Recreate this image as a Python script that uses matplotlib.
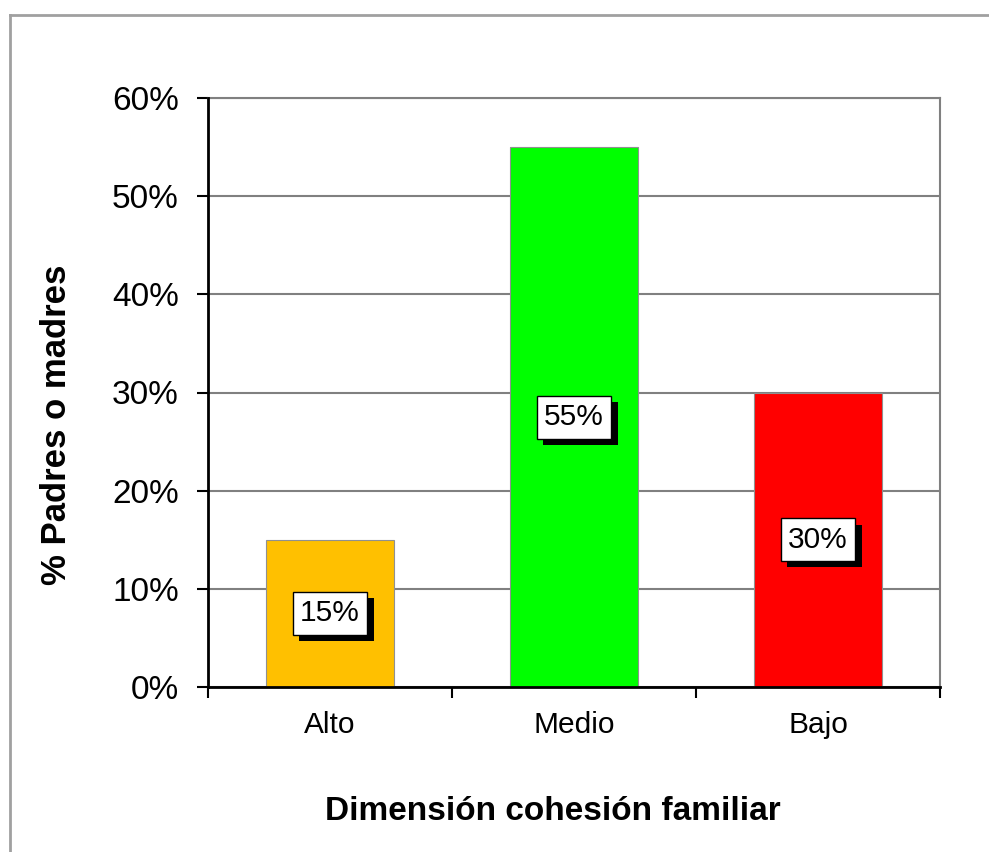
import matplotlib
matplotlib.use('Agg')
import matplotlib.pyplot as plt
import matplotlib.patheffects as pe
from matplotlib.lines import Line2D

# datos del grafico
categorias = ['Alto', 'Medio', 'Bajo']
porcentajes = [15, 55, 30]
colores = ['#FFC000', '#00FF00', '#FF0000']
ticks_y = [0, 10, 20, 30, 40, 50, 60]

plt.rcParams['font.family'] = ['Liberation Sans', 'DejaVu Sans']

fig = plt.figure(figsize=(9.89, 8.52), dpi=100)
ax = fig.add_axes([208 / 989, 165 / 852, 732 / 989, 589 / 852])

pos = list(range(len(categorias)))
ax.bar(pos, porcentajes, width=0.525, color=colores, edgecolor='#909090', linewidth=0.8, zorder=3)

ax.set_xlim(-0.5, 2.5)
ax.set_ylim(0, 60)
ax.set_yticks(ticks_y)
ax.set_yticklabels([f'{v}%' for v in ticks_y], fontsize=24)
ax.set_xticks(pos)
ax.set_xticklabels(categorias, fontsize=21.5)
ax.set_xticks([-0.5, 0.5, 1.5, 2.5], minor=True)
ax.tick_params(axis='x', which='major', length=0, pad=17)
ax.tick_params(axis='x', which='minor', length=8, width=1.5, direction='out')
ax.tick_params(axis='y', length=8, width=1.5, direction='out', pad=13)

ax.grid(axis='y', color='#808080', linewidth=1.5, zorder=0)
ax.set_axisbelow(True)
for s in ['left', 'bottom']:
    ax.spines[s].set_linewidth(2)
    ax.spines[s].set_color('black')
    ax.spines[s].set_zorder(5)
ax.spines['right'].set_color('#808080')
ax.spines['right'].set_linewidth(1.5)
ax.spines['top'].set_color('#808080')
ax.spines['top'].set_linewidth(1.5)

# etiquetas de valor con sombra
for x, v in zip(pos, porcentajes):
    t = ax.text(x, v / 2, f'{v}%', ha='center', va='center', fontsize=21.5, zorder=6,
                bbox=dict(boxstyle='square,pad=0.25', facecolor='white', edgecolor='black', linewidth=1))
    t.get_bbox_patch().set_path_effects([
        pe.SimplePatchShadow(offset=(4.5, -4.5), shadow_rgbFace='black', alpha=1.0),
        pe.Normal()])

fig.text(57 / 989, 1 - 425 / 852, '% Padres o madres', rotation=90, ha='center', va='center',
         fontsize=25, fontweight='bold')
fig.text(553 / 989, 1 - 812 / 852, 'Dimensión cohesión familiar', ha='center', va='center',
         fontsize=24, fontweight='bold')

# borde del area del grafico
fig.add_artist(Line2D([10 / 989, 10 / 989], [0, 1 - 15 / 852], transform=fig.transFigure,
                      color='#a0a0a0', linewidth=2))
fig.add_artist(Line2D([10 / 989, 1], [1 - 15 / 852, 1 - 15 / 852], transform=fig.transFigure,
                      color='#a0a0a0', linewidth=2))

fig.savefig('out.png', dpi=100)
